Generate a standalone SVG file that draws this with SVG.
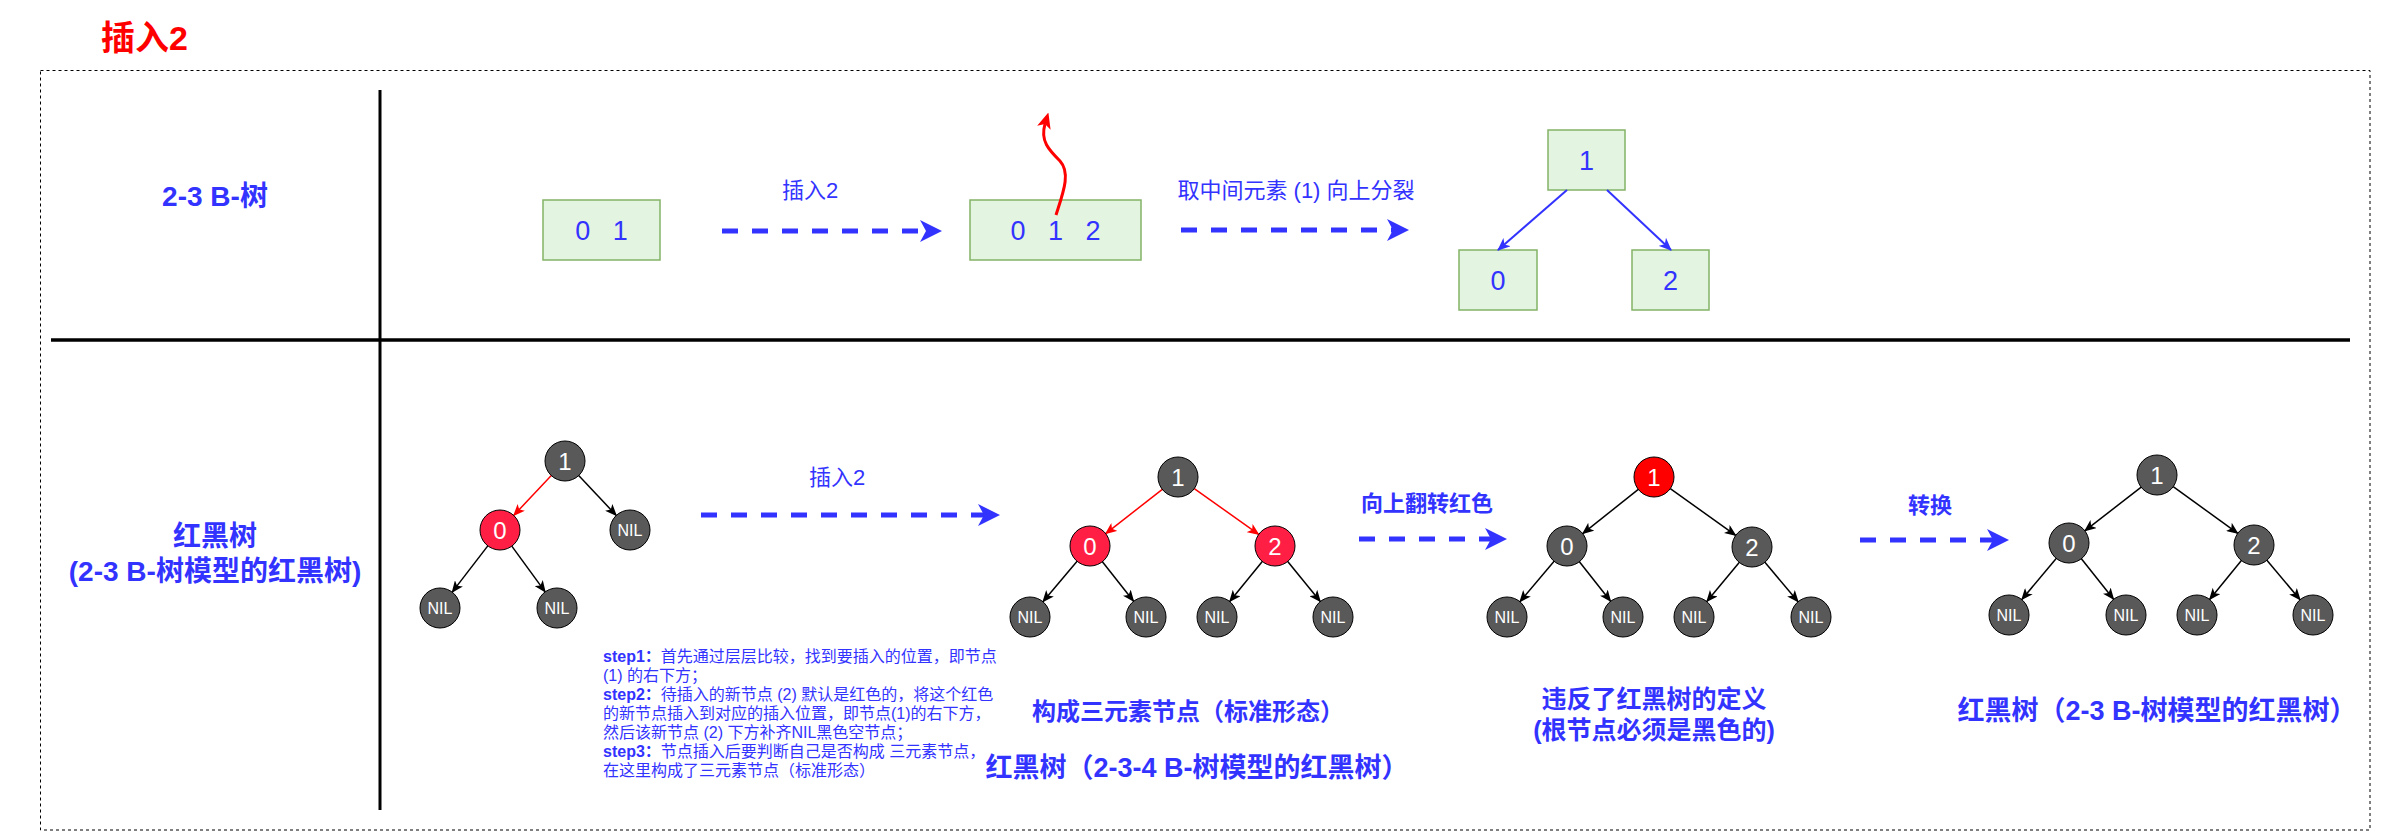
<svg xmlns="http://www.w3.org/2000/svg" width="2382" height="832" viewBox="0 0 2382 832">
<style>
text{font-family:"Liberation Sans","Noto Sans CJK SC",sans-serif;}
.lbl{fill:#3333FF;}
.b{font-weight:bold;}
.mid{text-anchor:middle;}
.dark{fill:#595959;stroke:#000;stroke-width:1;}
.red{fill:#FF1F44;stroke:#000;stroke-width:1;}
.red2{fill:#FF0000;stroke:#000;stroke-width:1;}
.nt{fill:#fff;font-size:24px;text-anchor:middle;}
.nil{fill:#fff;font-size:16px;text-anchor:middle;}
.box{fill:#E3F5E1;stroke:#82B366;stroke-width:1.5;}
.bt{fill:#3333FF;font-size:27px;text-anchor:middle;white-space:pre;}
.ek{stroke:#000;stroke-width:1.5;fill:none;marker-end:url(#mk);}
.er{stroke:#FF0000;stroke-width:1.5;fill:none;marker-end:url(#mr);}
.eb{stroke:#3333FF;stroke-width:2;fill:none;marker-end:url(#mb);}
.dash{stroke:#3333FF;stroke-width:5;stroke-dasharray:16 14;fill:none;marker-end:url(#big);}
</style>
<defs>
<marker id="mk" markerUnits="userSpaceOnUse" viewBox="0 0 12 10" markerWidth="12" markerHeight="10" refX="11" refY="5" orient="auto"><path d="M0,0 L12,5 L0,10 L3,5 Z" fill="#000"/></marker>
<marker id="mr" markerUnits="userSpaceOnUse" viewBox="0 0 12 10" markerWidth="12" markerHeight="10" refX="11" refY="5" orient="auto"><path d="M0,0 L12,5 L0,10 L3,5 Z" fill="#FF0000"/></marker>
<marker id="mb" markerUnits="userSpaceOnUse" viewBox="0 0 13 11" markerWidth="13" markerHeight="11" refX="12" refY="5.5" orient="auto"><path d="M0,0 L13,5.5 L0,11 L3.5,5.5 Z" fill="#3333FF"/></marker>
<marker id="big" markerUnits="userSpaceOnUse" viewBox="0 0 22 22" markerWidth="22" markerHeight="22" refX="6" refY="11" orient="auto"><path d="M0,0 L22,11 L0,22 L6,11 Z" fill="#3333FF"/></marker>
<marker id="rc" markerUnits="userSpaceOnUse" viewBox="0 0 16 14" markerWidth="16" markerHeight="14" refX="4" refY="7" orient="auto"><path d="M0,0 L16,7 L0,14 L4,7 Z" fill="#FF0000"/></marker>
</defs>

<rect width="2382" height="832" fill="#fff"/>

<g id="title"><text x="101" y="50" font-size="34" font-weight="bold" fill="#FF0000">插入2</text></g>

<g id="frame">
<rect x="40.5" y="70.5" width="2329.5" height="759.5" fill="none" stroke="#000" stroke-width="1" stroke-dasharray="3 3"/>
<line x1="380" y1="90" x2="380" y2="810" stroke="#000" stroke-width="3"/>
<line x1="51" y1="340" x2="2350" y2="340" stroke="#000" stroke-width="3.5"/>
</g>

<g id="row-labels">
<text class="lbl b mid" x="215" y="206" font-size="28">2-3 B-树</text>
<text class="lbl b mid" x="215" y="546" font-size="28">红黑树</text>
<text class="lbl b mid" x="215" y="581" font-size="28">(2-3 B-树模型的红黑树)</text>
</g>

<g id="box-01"><rect class="box" x="543" y="200" width="117" height="60"/><text class="bt" x="601.5" y="240" xml:space="preserve">0   1</text></g>
<g id="box-012"><rect class="box" x="970" y="200" width="171" height="60"/><text class="bt" x="1055.5" y="240" xml:space="preserve">0   1   2</text></g>
<g id="box-1"><rect class="box" x="1548" y="130" width="77" height="60"/><text class="bt" x="1586.5" y="170">1</text></g>
<g id="box-0"><rect class="box" x="1459" y="250" width="78" height="60"/><text class="bt" x="1498" y="290">0</text></g>
<g id="box-2"><rect class="box" x="1632" y="250" width="77" height="60"/><text class="bt" x="1670.5" y="290">2</text></g>

<g id="labels">
<text class="lbl mid" x="810" y="198" font-size="22">插入2</text>
<text class="lbl mid" x="1296" y="198" font-size="22">取中间元素 (1) 向上分裂</text>
<text class="lbl mid" x="837" y="485" font-size="22">插入2</text>
<text class="lbl b mid" x="1427" y="511" font-size="22">向上翻转红色</text>
<text class="lbl b mid" x="1930" y="513" font-size="22">转换</text>
<text class="lbl b mid" x="1188" y="720" font-size="24">构成三元素节点（标准形态）</text>
<text class="lbl b mid" x="1197" y="777" font-size="27">红黑树（2-3-4 B-树模型的红黑树）</text>
<text class="lbl b mid" x="1654" y="708" font-size="25">违反了红黑树的定义</text>
<text class="lbl b mid" x="1654" y="739" font-size="25">(根节点必须是黑色的)</text>
<text class="lbl b mid" x="2157" y="720" font-size="27">红黑树（2-3 B-树模型的红黑树）</text>
</g>

<g id="steps" class="lbl" font-size="16">
<text x="603" y="662"><tspan class="b">step1：</tspan>首先通过层层比较，找到要插入的位置，即节点</text>
<text x="603" y="681">(1) 的右下方；</text>
<text x="603" y="700"><tspan class="b">step2：</tspan>待插入的新节点 (2) 默认是红色的，将这个红色</text>
<text x="603" y="719">的新节点插入到对应的插入位置，即节点(1)的右下方，</text>
<text x="603" y="738">然后该新节点 (2) 下方补齐NIL黑色空节点；</text>
<text x="603" y="757"><tspan class="b">step3：</tspan>节点插入后要判断自己是否构成 三元素节点，</text>
<text x="603" y="776">在这里构成了三元素节点（标准形态）</text>
</g>

<g id="connectors">
<line class="dash" x1="722" y1="231" x2="926" y2="231"/>
<line class="dash" x1="1181" y1="230" x2="1393" y2="230"/>
<line class="dash" x1="701" y1="515" x2="984" y2="515"/>
<line class="dash" x1="1359" y1="539" x2="1491" y2="539"/>
<line class="dash" x1="1860" y1="540" x2="1993" y2="540"/>
<path d="M1056,215 C1063,193 1071,173 1060,161 C1049,150 1040,141 1045,124" stroke="#FF0000" stroke-width="3" fill="none" marker-end="url(#rc)"/>
<line class="eb" x1="1567" y1="190" x2="1498" y2="250"/>
<line class="eb" x1="1607" y1="190" x2="1671" y2="250"/>
<line class="er" x1="551.3" y1="475.6" x2="513.7" y2="515.4"/>
<line class="ek" x1="578.7" y1="475.6" x2="616.3" y2="515.4"/>
<line class="ek" x1="487.8" y1="545.9" x2="452.2" y2="592.1"/>
<line class="ek" x1="511.8" y1="546.1" x2="545.2" y2="591.9"/>
<line class="er" x1="1162.3" y1="489.3" x2="1105.7" y2="533.7"/>
<line class="er" x1="1194.3" y1="488.6" x2="1258.7" y2="534.4"/>
<line class="ek" x1="1077.1" y1="561.3" x2="1042.9" y2="601.7"/>
<line class="ek" x1="1102.4" y1="561.7" x2="1133.6" y2="601.3"/>
<line class="ek" x1="1262.3" y1="561.5" x2="1229.7" y2="601.5"/>
<line class="ek" x1="1287.7" y1="561.5" x2="1320.3" y2="601.5"/>
<line class="ek" x1="1638.3" y1="489.4" x2="1582.7" y2="533.6"/>
<line class="ek" x1="1670.3" y1="488.6" x2="1735.7" y2="535.4"/>
<line class="ek" x1="1554.1" y1="561.3" x2="1519.9" y2="601.7"/>
<line class="ek" x1="1579.4" y1="561.7" x2="1610.6" y2="601.3"/>
<line class="ek" x1="1739.2" y1="562.4" x2="1706.8" y2="601.6"/>
<line class="ek" x1="1764.9" y1="562.3" x2="1798.1" y2="601.7"/>
<line class="ek" x1="2141.2" y1="487.2" x2="2084.8" y2="530.8"/>
<line class="ek" x1="2173.2" y1="486.7" x2="2237.8" y2="533.3"/>
<line class="ek" x1="2056.2" y1="558.4" x2="2021.8" y2="599.6"/>
<line class="ek" x1="2081.4" y1="558.7" x2="2113.6" y2="599.3"/>
<line class="ek" x1="2241.4" y1="560.5" x2="2209.6" y2="599.5"/>
<line class="ek" x1="2266.9" y1="560.3" x2="2300.1" y2="599.7"/>
</g>

<g id="t1-n1"><circle class="dark" cx="565" cy="461" r="20"/><text class="nt" x="565" y="469.5">1</text></g>
<g id="t1-n0"><circle class="red" cx="500" cy="530" r="20"/><text class="nt" x="500" y="538.5">0</text></g>
<g id="t1-nil-r"><circle class="dark" cx="630" cy="530" r="20"/><text class="nil" x="630" y="535.5">NIL</text></g>
<g id="t1-nil-ll"><circle class="dark" cx="440" cy="608" r="20"/><text class="nil" x="440" y="613.5">NIL</text></g>
<g id="t1-nil-lr"><circle class="dark" cx="557" cy="608" r="20"/><text class="nil" x="557" y="613.5">NIL</text></g>

<g id="t2-n1"><circle class="dark" cx="1178" cy="477" r="20"/><text class="nt" x="1178" y="485.5">1</text></g>
<g id="t2-n0"><circle class="red" cx="1090" cy="546" r="20"/><text class="nt" x="1090" y="554.5">0</text></g>
<g id="t2-n2"><circle class="red" cx="1275" cy="546" r="20"/><text class="nt" x="1275" y="554.5">2</text></g>
<g id="t2-nil1"><circle class="dark" cx="1030" cy="617" r="20"/><text class="nil" x="1030" y="622.5">NIL</text></g>
<g id="t2-nil2"><circle class="dark" cx="1146" cy="617" r="20"/><text class="nil" x="1146" y="622.5">NIL</text></g>
<g id="t2-nil3"><circle class="dark" cx="1217" cy="617" r="20"/><text class="nil" x="1217" y="622.5">NIL</text></g>
<g id="t2-nil4"><circle class="dark" cx="1333" cy="617" r="20"/><text class="nil" x="1333" y="622.5">NIL</text></g>

<g id="t3-n1"><circle class="red2" cx="1654" cy="477" r="20"/><text class="nt" x="1654" y="485.5">1</text></g>
<g id="t3-n0"><circle class="dark" cx="1567" cy="546" r="20"/><text class="nt" x="1567" y="554.5">0</text></g>
<g id="t3-n2"><circle class="dark" cx="1752" cy="547" r="20"/><text class="nt" x="1752" y="555.5">2</text></g>
<g id="t3-nil1"><circle class="dark" cx="1507" cy="617" r="20"/><text class="nil" x="1507" y="622.5">NIL</text></g>
<g id="t3-nil2"><circle class="dark" cx="1623" cy="617" r="20"/><text class="nil" x="1623" y="622.5">NIL</text></g>
<g id="t3-nil3"><circle class="dark" cx="1694" cy="617" r="20"/><text class="nil" x="1694" y="622.5">NIL</text></g>
<g id="t3-nil4"><circle class="dark" cx="1811" cy="617" r="20"/><text class="nil" x="1811" y="622.5">NIL</text></g>

<g id="t4-n1"><circle class="dark" cx="2157" cy="475" r="20"/><text class="nt" x="2157" y="483.5">1</text></g>
<g id="t4-n0"><circle class="dark" cx="2069" cy="543" r="20"/><text class="nt" x="2069" y="551.5">0</text></g>
<g id="t4-n2"><circle class="dark" cx="2254" cy="545" r="20"/><text class="nt" x="2254" y="553.5">2</text></g>
<g id="t4-nil1"><circle class="dark" cx="2009" cy="615" r="20"/><text class="nil" x="2009" y="620.5">NIL</text></g>
<g id="t4-nil2"><circle class="dark" cx="2126" cy="615" r="20"/><text class="nil" x="2126" y="620.5">NIL</text></g>
<g id="t4-nil3"><circle class="dark" cx="2197" cy="615" r="20"/><text class="nil" x="2197" y="620.5">NIL</text></g>
<g id="t4-nil4"><circle class="dark" cx="2313" cy="615" r="20"/><text class="nil" x="2313" y="620.5">NIL</text></g>
</svg>
